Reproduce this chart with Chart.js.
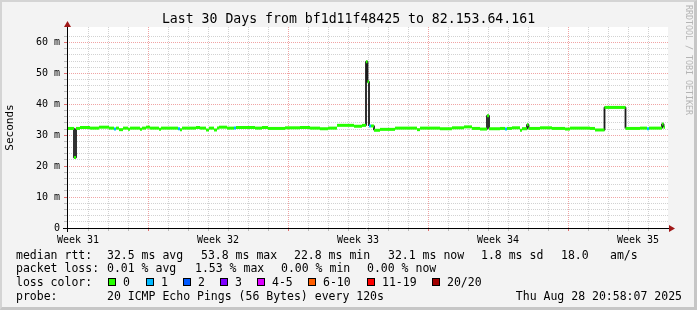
<!DOCTYPE html>
<html>
<head>
<meta charset="utf-8">
<script src="https://cdn.jsdelivr.net/npm/chart.js@4.4.0/dist/chart.umd.min.js"></script>
<style>
  body { margin: 0; background: #f3f3f3; }
  #wrap { position: relative; width: 697px; height: 310px; background: #f3f3f3; overflow: hidden;
          font-family: "DejaVu Sans Mono", monospace; color: #000; }
  #cw { position: absolute; left: 0; top: 0; width: 697px; height: 310px; }
  #title { position: absolute; left: 0; top: 10.5px; width: 697px; text-align: center; font-size: 13.2px; line-height: 15px; white-space: pre; }
  .t { position: absolute; white-space: pre; font-size: 11.5px; line-height: 13px; }
  .box { position: absolute; width: 6px; height: 6px; border: 1px solid #000; }
  #mark { position: absolute; left: 684px; top: 5px; writing-mode: vertical-rl; font-size: 8.3px; color: #b4b4b4; white-space: pre; }
  #frame { position: absolute; left: 0; top: 0; width: 697px; height: 310px; box-sizing: border-box; pointer-events: none;
           border-style: solid; border-width: 2px 3px 3px 2px; border-color: #d4d4d4 #c6c6c6 #c6c6c6 #d4d4d4; }
</style>
</head>
<body>
<div id="wrap">
  <div id="cw"><canvas id="myChart"></canvas></div>
  <div id="title">Last 30 Days from bf1d11f48425 to 82.153.64.161</div>
  <div id="mark">RRDTOOL / TOBI OETIKER</div>
  <div id="legend"></div>
  <div id="frame"></div>
</div>
<script>
// median rtt change points: day since start of window, value in ms, lost pings
const medianDays = [0.00, 0.35, 0.45, 0.65, 1.15, 1.60, 2.10, 2.35, 2.45, 2.60, 2.80, 3.05, 3.15, 3.65, 3.75, 3.95,
  4.15, 4.60, 4.70, 5.55, 5.65, 5.75, 6.45, 6.65, 6.95, 7.10, 7.35, 7.50, 7.60, 8.00, 8.35, 8.45, 9.40, 9.75,
  10.05, 10.90, 11.65, 12.15, 12.65, 13.05, 13.50, 14.35, 14.75, 14.95, 15.025, 15.10, 15.20, 15.35, 15.65,
  16.40, 17.50, 17.65, 18.65, 19.25, 19.85, 20.25, 20.65, 21.00, 21.10, 21.65, 21.90, 22.00, 22.25, 22.65,
  22.75, 23.00, 23.075, 23.65, 24.25, 24.90, 25.15, 26.15, 26.40, 26.875, 27.925, 28.65, 29.00, 29.10,
  29.75, 29.825]
const medianMs = [32.2, 22.8, 32.2, 32.5, 32.3, 32.6, 32.3, 32.0, 32.3, 31.8, 32.3, 31.9, 32.3, 31.9, 32.3, 32.6,
  32.3, 31.9, 32.3, 32.1, 31.8, 32.3, 32.5, 32.3, 31.7, 32.3, 31.7, 32.3, 32.6, 32.3, 32.3, 32.5, 32.3, 32.5,
  32.2, 32.4, 32.5, 32.3, 32.1, 32.3, 33.2, 32.9, 33.2, 53.8, 47.3, 33.0, 33.0, 31.6, 31.9,
  32.3, 31.8, 32.3, 32.1, 32.4, 32.7, 32.2, 32.0, 36.3, 32.1, 32.2, 32.0, 32.2, 32.4, 31.6,
  32.1, 33.4, 32.2, 32.4, 32.2, 32.0, 32.3, 32.2, 31.7, 39.0, 32.2, 32.3, 32.1, 32.3,
  33.6, 32.6]
const lostPings = [0, 0, 0, 0, 0, 0, 0, 1, 0, 0, 0, 0, 0, 0, 0, 0,
  0, 0, 0, 1, 0, 0, 0, 0, 0, 0, 0, 0, 0, 0, 1, 0, 0, 0,
  0, 0, 0, 0, 0, 0, 0, 0, 0, 0, 0, 1, 0, 0, 0,
  0, 0, 0, 0, 0, 0, 0, 0, 0, 0, 0, 1, 0, 0, 0,
  0, 0, 0, 0, 0, 0, 0, 0, 0, 0, 0, 0, 1, 0,
  0, 0]
const lastDay = 29.9

const weekLabels = ["Week 31", "Week 32", "Week 33", "Week 34", "Week 35"]
const weekMidDays = [0.55, 7.55, 14.55, 21.55, 28.55]
const weekStartDays = [4.05, 11.05, 18.05, 25.05]

const rttStats = ["32.5 ms avg", "53.8 ms max", "22.8 ms min", "32.1 ms now", "1.8 ms sd", "18.0", "am/s"]
const lossStats = ["0.01 % avg", "1.53 % max", "0.00 % min", "0.00 % now"]
const lossLabels = ["0", "1", "2", "3", "4-5", "6-10", "11-19", "20/20"]
const lossColors = ["#26ff00", "#00b8ff", "#0059ff", "#7e00ff", "#dd00ff", "#ff5e00", "#ff0000", "#a10000"]

// layout of the text rows under the graph
const rttX = [107, 201, 294, 388, 481, 561, 610]
const lossX = [107, 195, 281, 367]
const boxX = [108, 146, 183, 220, 257, 308, 367, 432]
const rowTop = [248.5, 262, 276, 290]

const FONT = "DejaVu Sans Mono"
const legend = document.getElementById("legend")
function addText(txt, x, y, extra) {
    const el = document.createElement("div")
    el.className = "t"
    el.textContent = txt
    el.style.left = x + "px"
    el.style.top = y + "px"
    if (extra) Object.assign(el.style, extra)
    legend.appendChild(el)
}
addText("median rtt:", 16, rowTop[0])
rttStats.forEach((s, i) => addText(s, rttX[i], rowTop[0]))
addText("packet loss:", 16, rowTop[1])
lossStats.forEach((s, i) => addText(s, lossX[i], rowTop[1]))
addText("loss color:", 16, rowTop[2])
lossLabels.forEach((s, i) => {
    const b = document.createElement("div")
    b.className = "box"
    b.style.left = boxX[i] + "px"
    b.style.top = "278px"
    b.style.background = lossColors[i]
    legend.appendChild(b)
    addText(s, boxX[i] + 15, rowTop[2])
})
addText("probe:", 16, rowTop[3])
addText("20 ICMP Echo Pings (56 Bytes) every 120s", 107, rowTop[3])
addText("Thu Aug 28 20:58:07 2025", 0, rowTop[3], {left: "auto", right: "15px"})

// green (loss coloured) horizontal pieces and the dark step line
const greenPts = []
medianDays.forEach((d, i) => {
    const next = i + 1 < medianDays.length ? medianDays[i + 1] : lastDay
    greenPts.push({x: d, y: medianMs[i]}, {x: next, y: medianMs[i]}, {x: next, y: null})
})
const darkPts = medianDays.map((d, i) => ({x: d, y: medianMs[i]}))
darkPts.push({x: lastDay, y: medianMs[medianMs.length - 1]})

const minorDays = []
for (let k = 1; k < 30; k++) minorDays.push(k + 0.05)

const near = (a, list) => list.some(v => Math.abs(v - a) < 1e-6)
const GRID = "#d2d2d2"
const MGRID = "#f0a4a4"
const NONE = "rgba(0,0,0,0)"

const plotBg = {
    id: "plotBg",
    beforeDraw(chart) {
        const {ctx, chartArea: a} = chart
        ctx.save()
        ctx.fillStyle = "#ffffff"
        ctx.fillRect(a.left, a.top, a.right - a.left, a.bottom - a.top)
        ctx.restore()
    }
}
const axes = {
    id: "axes",
    afterDraw(chart) {
        const {ctx, chartArea: a} = chart
        ctx.save()
        ctx.strokeStyle = "#000"
        ctx.lineWidth = 1
        ctx.beginPath()
        ctx.moveTo(a.left - 4, a.bottom + 0.5)
        ctx.lineTo(a.right + 2, a.bottom + 0.5)
        ctx.moveTo(a.left + 0.5, a.bottom + 4)
        ctx.lineTo(a.left + 0.5, a.top - 1)
        ctx.stroke()
        ctx.fillStyle = "#a01818"
        ctx.beginPath()
        ctx.moveTo(a.right + 1, a.bottom - 3)
        ctx.lineTo(a.right + 7, a.bottom + 0.5)
        ctx.lineTo(a.right + 1, a.bottom + 4)
        ctx.fill()
        ctx.beginPath()
        ctx.moveTo(a.left - 3, a.top)
        ctx.lineTo(a.left + 0.5, a.top - 6)
        ctx.lineTo(a.left + 4, a.top)
        ctx.fill()
        ctx.restore()
    }
}

const config = {
    type: "line",
    data: {
        datasets: [{
            data: greenPts,
            order: 0,
            borderColor: lossColors[0],
            borderWidth: 3,
            borderCapStyle: "butt",
            spanGaps: false,
            segment: {
                borderColor: ctx => lossColors[lostPings[Math.floor(ctx.p0DataIndex / 3)]]
            }
        }, {
            data: darkPts,
            order: 1,
            borderColor: "#1c1c1c",
            borderWidth: 1.8,
            borderJoinStyle: "bevel",
            stepped: true,
            segment: {
                // small steps stay hidden under the green line
                borderColor: ctx => Math.abs(ctx.p1.parsed.y - ctx.p0.parsed.y) < 1 ? NONE : "#1c1c1c"
            }
        }]
    },
    options: {
        responsive: true,
        maintainAspectRatio: false,
        animation: false,
        events: [],
        elements: {point: {radius: 0}, line: {tension: 0}},
        layout: {padding: {left: 0, top: 27, right: 29, bottom: 0}},
        plugins: {legend: {display: false}, tooltip: {enabled: false}},
        scales: {
            x: {
                type: "linear",
                min: 0,
                max: 30.05,
                afterBuildTicks(scale) {
                    scale.ticks = minorDays.concat(weekMidDays).sort((a, b) => a - b).map(v => ({value: v}))
                },
                afterFit(scale) { scale.height = 82 },
                border: {display: false, dash: [1, 1]},
                grid: {
                    drawTicks: true,
                    tickLength: 3,
                    color: ctx => near(ctx.tick.value, weekMidDays) ? NONE : (near(ctx.tick.value, weekStartDays) ? MGRID : GRID),
                    tickColor: ctx => near(ctx.tick.value, weekMidDays) ? NONE : (near(ctx.tick.value, weekStartDays) ? "#e07070" : "#bbbbbb")
                },
                ticks: {
                    autoSkip: false,
                    maxRotation: 0,
                    padding: 3,
                    color: "#000",
                    font: {family: FONT, size: 10},
                    callback: v => {
                        const i = weekMidDays.findIndex(w => Math.abs(w - v) < 1e-6)
                        return i >= 0 ? weekLabels[i] : ""
                    }
                }
            },
            y: {
                min: 0,
                max: 65,
                afterFit(scale) { scale.width = 67 },
                border: {display: false, dash: [1, 1]},
                grid: {
                    drawTicks: true,
                    tickLength: 3,
                    color: ctx => {
                        const v = ctx.tick.value
                        if (v === 0 || v % 2 !== 0) return NONE
                        return v % 10 === 0 ? MGRID : GRID
                    },
                    tickColor: ctx => {
                        const v = ctx.tick.value
                        if (v === 0 || v % 2 !== 0) return NONE
                        return v % 10 === 0 ? "#e07070" : "#bbbbbb"
                    }
                },
                ticks: {
                    stepSize: 2,
                    autoSkip: false,
                    maxTicksLimit: 100,
                    padding: 4,
                    color: "#000",
                    font: {family: FONT, size: 10},
                    callback: v => v % 10 !== 0 ? "" : (v === 0 ? "0" : v + " m")
                },
                title: {
                    display: true,
                    text: "Seconds",
                    color: "#000",
                    font: {family: FONT, size: 11},
                    padding: {top: 4, bottom: 0}
                }
            }
        }
    },
    plugins: [plotBg, axes]
}

const myChart = new Chart(document.getElementById("myChart"), config)
</script>
</body>
</html>
